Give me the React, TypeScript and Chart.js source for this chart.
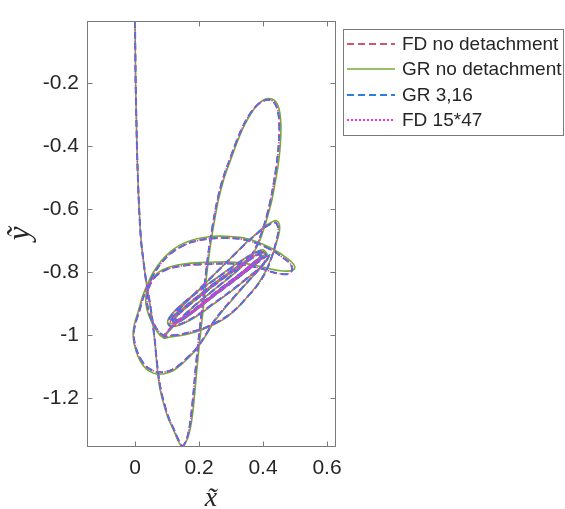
import React, { useEffect, useRef } from 'react';
import { Chart, registerables } from 'chart.js';

Chart.register(...registerables);

// ---------- data ----------
const SERIES_NAMES = ['FD no detachment', 'GR no detachment', 'GR 3,16', 'FD 15*47'];
const X_TICKS = [0, 0.2, 0.4, 0.6];
const Y_TICKS = [-1.2, -1, -0.8, -0.6, -0.4, -0.2];
const X_RANGE = [-0.15, 0.625];
const Y_RANGE = [-1.352, -0.002];

// FD no detachment trajectory (x̃, ỹ)
const fdNoDetachment: number[][] = [
  [0.000, -0.003], [0.001, -0.1], [0.002, -0.2], [0.004, -0.3], [0.006, -0.4], [0.009, -0.5],
  [0.013, -0.6], [0.019, -0.7], [0.027, -0.77], [0.034, -0.823], [0.045, -0.89], [0.054, -0.95],
  [0.062, -1.02], [0.070, -1.10], [0.079, -1.165], [0.091, -1.216], [0.105, -1.262], [0.122, -1.30],
  [0.136, -1.333], [0.148, -1.352],
  [0.160, -1.335], [0.169, -1.30], [0.176, -1.25], [0.183, -1.18], [0.189, -1.113], [0.197, -1.03],
  [0.205, -0.957], [0.213, -0.88], [0.222, -0.80], [0.232, -0.72], [0.244, -0.645], [0.258, -0.57],
  [0.276, -0.50], [0.298, -0.438], [0.318, -0.383], [0.339, -0.334], [0.36, -0.297], [0.381, -0.271],
  [0.40, -0.257], [0.416, -0.253], [0.43, -0.257], [0.441, -0.272], [0.448, -0.297], [0.451, -0.334],
  [0.45, -0.38], [0.447, -0.42], [0.441, -0.47], [0.433, -0.521], [0.423, -0.575], [0.411, -0.625],
  [0.398, -0.668], [0.385, -0.705], [0.372, -0.733], [0.358, -0.757],
  [0.33, -0.785], [0.29, -0.82], [0.24, -0.862], [0.19, -0.903], [0.15, -0.94], [0.12, -0.968],
  [0.10, -0.99], [0.09, -1.005],
  [0.11, -1.002], [0.14, -0.998], [0.175, -0.99], [0.205, -0.982], [0.25, -0.962], [0.288, -0.94],
  [0.32, -0.913], [0.35, -0.88], [0.38, -0.845], [0.405, -0.806], [0.424, -0.762], [0.438, -0.716],
  [0.447, -0.677], [0.446, -0.653], [0.437, -0.643], [0.424, -0.647], [0.40, -0.662], [0.371, -0.687],
  [0.345, -0.71], [0.32, -0.735], [0.29, -0.765], [0.26, -0.795],
  [0.22, -0.835], [0.18, -0.875], [0.145, -0.91], [0.122, -0.938], [0.112, -0.955], [0.118, -0.962],
  [0.14, -0.955], [0.18, -0.925], [0.23, -0.885], [0.28, -0.845], [0.33, -0.805], [0.365, -0.775],
  [0.388, -0.755], [0.392, -0.745], [0.375, -0.748], [0.335, -0.772], [0.285, -0.808], [0.235, -0.846],
  [0.185, -0.886], [0.145, -0.92], [0.122, -0.945], [0.12, -0.958], [0.135, -0.958], [0.17, -0.935],
  [0.215, -0.9], [0.265, -0.86], [0.315, -0.822], [0.36, -0.786], [0.39, -0.76], [0.405, -0.742],
  [0.395, -0.738], [0.36, -0.76], [0.31, -0.795], [0.26, -0.832], [0.21, -0.872], [0.165, -0.908],
  [0.135, -0.935], [0.125, -0.95], [0.132, -0.952], [0.16, -0.94], [0.2, -0.912], [0.25, -0.873],
  [0.3, -0.835], [0.345, -0.8], [0.38, -0.772], [0.40, -0.757], [0.41, -0.748],
  [0.395, -0.733], [0.36, -0.748], [0.31, -0.78], [0.255, -0.82], [0.2, -0.86], [0.15, -0.9],
  [0.118, -0.932], [0.104, -0.955], [0.11, -0.97], [0.14, -0.966], [0.19, -0.94], [0.245, -0.9],
  [0.3, -0.86], [0.35, -0.82], [0.39, -0.787], [0.41, -0.765], [0.418, -0.748],
  [0.405, -0.768], [0.38, -0.80], [0.35, -0.833], [0.30, -0.89], [0.272, -0.923], [0.246, -0.957],
  [0.215, -1.009], [0.19, -1.045], [0.164, -1.071], [0.14, -1.094], [0.112, -1.112], [0.075, -1.118],
  [0.05, -1.11], [0.03, -1.094], [0.012, -1.065], [0.0, -1.03], [-0.004, -0.995], [0.002, -0.96],
  [0.013, -0.926], [0.025, -0.883], [0.039, -0.848], [0.058, -0.808], [0.081, -0.773], [0.11, -0.742],
  [0.143, -0.72], [0.18, -0.704], [0.226, -0.695], [0.262, -0.692], [0.298, -0.692], [0.33, -0.695],
  [0.36, -0.702], [0.39, -0.712], [0.413, -0.723], [0.44, -0.738], [0.463, -0.755], [0.482, -0.77],
  [0.491, -0.787], [0.486, -0.802], [0.47, -0.807], [0.443, -0.804], [0.42, -0.797], [0.40, -0.79],
  [0.35, -0.779], [0.298, -0.773], [0.226, -0.775], [0.164, -0.778], [0.11, -0.788], [0.075, -0.805],
  [0.052, -0.83], [0.04, -0.865], [0.038, -0.9], [0.046, -0.935], [0.062, -0.97], [0.08, -0.995],
  [0.092, -1.0], [0.105, -0.985], [0.13, -0.96], [0.17, -0.93], [0.22, -0.89], [0.27, -0.85],
  [0.32, -0.812], [0.36, -0.78], [0.385, -0.76],
];

// GR no detachment trajectory (slightly offset from the FD run)
const grNoDetachment: number[][] = [
  [0.000, -0.003], [0.001, -0.1], [0.002, -0.2], [0.004, -0.3], [0.006, -0.4], [0.009, -0.5],
  [0.013, -0.6], [0.019, -0.7], [0.027, -0.77], [0.034, -0.823], [0.045, -0.89], [0.054, -0.95],
  [0.062, -1.02], [0.069, -1.10], [0.077, -1.165], [0.089, -1.216], [0.103, -1.262], [0.12, -1.30],
  [0.134, -1.333], [0.146, -1.352],
  [0.162, -1.333], [0.172, -1.30], [0.18, -1.25], [0.187, -1.18], [0.193, -1.113], [0.201, -1.03],
  [0.209, -0.957], [0.217, -0.88], [0.225, -0.80], [0.235, -0.72], [0.247, -0.645], [0.261, -0.57],
  [0.279, -0.50], [0.301, -0.438], [0.321, -0.383], [0.342, -0.334], [0.363, -0.296], [0.384, -0.268],
  [0.403, -0.253], [0.42, -0.249], [0.435, -0.254], [0.446, -0.27], [0.453, -0.297], [0.456, -0.334],
  [0.455, -0.38], [0.452, -0.42], [0.446, -0.47], [0.437, -0.521], [0.427, -0.575], [0.414, -0.625],
  [0.401, -0.668], [0.388, -0.705], [0.374, -0.733], [0.36, -0.757],
  [0.332, -0.785], [0.292, -0.82], [0.242, -0.86], [0.192, -0.902], [0.152, -0.94], [0.12, -0.972],
  [0.098, -0.995], [0.089, -1.01],
  [0.11, -1.006], [0.14, -1.002], [0.175, -0.994], [0.205, -0.985], [0.25, -0.965], [0.288, -0.942],
  [0.32, -0.914], [0.35, -0.88], [0.38, -0.843], [0.405, -0.803], [0.425, -0.758], [0.441, -0.711],
  [0.451, -0.672], [0.451, -0.648], [0.442, -0.637], [0.428, -0.641], [0.403, -0.657], [0.374, -0.683],
  [0.347, -0.707], [0.321, -0.733], [0.291, -0.764], [0.26, -0.795],
  [0.22, -0.836], [0.18, -0.876], [0.145, -0.912], [0.121, -0.94], [0.11, -0.958], [0.117, -0.965],
  [0.14, -0.957], [0.18, -0.927], [0.23, -0.886], [0.28, -0.845], [0.33, -0.804], [0.366, -0.773],
  [0.39, -0.752], [0.395, -0.742], [0.377, -0.746], [0.336, -0.771], [0.286, -0.807], [0.236, -0.845],
  [0.186, -0.885], [0.145, -0.92], [0.121, -0.946], [0.119, -0.96], [0.134, -0.96], [0.17, -0.937],
  [0.215, -0.901], [0.265, -0.861], [0.315, -0.822], [0.361, -0.785], [0.392, -0.758], [0.408, -0.739],
  [0.397, -0.735], [0.361, -0.758], [0.311, -0.794], [0.26, -0.832], [0.21, -0.872], [0.165, -0.909],
  [0.134, -0.937], [0.124, -0.952], [0.131, -0.954], [0.16, -0.941], [0.2, -0.913], [0.25, -0.873],
  [0.3, -0.834], [0.346, -0.798], [0.382, -0.769], [0.403, -0.753], [0.413, -0.744],
  [0.398, -0.729], [0.362, -0.745], [0.312, -0.777], [0.256, -0.818], [0.2, -0.858], [0.15, -0.899],
  [0.117, -0.931], [0.102, -0.956], [0.109, -0.972], [0.14, -0.968], [0.19, -0.942], [0.245, -0.902],
  [0.3, -0.861], [0.351, -0.82], [0.392, -0.785], [0.413, -0.762], [0.421, -0.745],
  [0.408, -0.765], [0.382, -0.798], [0.352, -0.832], [0.302, -0.89], [0.273, -0.924], [0.246, -0.96],
  [0.214, -1.013], [0.188, -1.05], [0.162, -1.077], [0.137, -1.1], [0.108, -1.118], [0.071, -1.124],
  [0.046, -1.115], [0.026, -1.097], [0.009, -1.067], [-0.002, -1.03], [-0.006, -0.995], [0.0, -0.958],
  [0.011, -0.922], [0.023, -0.879], [0.037, -0.843], [0.056, -0.803], [0.08, -0.767], [0.11, -0.736],
  [0.143, -0.713], [0.18, -0.698], [0.226, -0.689], [0.262, -0.686], [0.298, -0.687], [0.33, -0.69],
  [0.36, -0.697], [0.39, -0.708], [0.415, -0.719], [0.443, -0.734], [0.467, -0.75], [0.487, -0.766],
  [0.499, -0.782], [0.494, -0.794], [0.476, -0.797], [0.448, -0.795], [0.424, -0.79], [0.403, -0.785],
  [0.352, -0.774], [0.299, -0.768], [0.227, -0.769], [0.164, -0.773], [0.108, -0.784], [0.072, -0.802],
  [0.049, -0.828], [0.036, -0.864], [0.034, -0.9], [0.043, -0.937], [0.06, -0.974], [0.078, -1.0],
  [0.09, -1.006], [0.104, -0.99], [0.13, -0.963], [0.17, -0.932], [0.22, -0.891], [0.27, -0.851],
  [0.32, -0.813], [0.36, -0.781], [0.385, -0.761],
];

// GR 3,16 and FD 15*47 follow the FD no detachment run within reading precision
const gr316: number[][] = fdNoDetachment;
const fd1547: number[][] = fdNoDetachment;

// ---------- styles ----------
const COLORS = ['#C2203E', '#77AC30', '#2B7FDA', '#FF2FD2'];
const DASHES = [[7, 4], [], [7, 4], [1.5, 2.5]];
const WIDTHS = [1.6, 1.6, 2, 1.5];
const AXIS_COLOR = '#7a7a7a';
const TEXT_COLOR = '#262626';
const SANS = "'Liberation Sans', Arial, sans-serif";
const SERIF = "'Liberation Serif', 'DejaVu Serif', serif";

const fmt = (v: number) => String(Number(v.toFixed(2)));

const overlayPlugin = {
  id: 'matlabOverlay',
  afterDraw(chart: any) {
    const { ctx, chartArea: a, scales } = chart;
    const xs = scales.x;
    const ys = scales.y;
    ctx.save();
    // axes box
    ctx.setLineDash([]);
    ctx.strokeStyle = AXIS_COLOR;
    ctx.lineWidth = 1;
    const L = Math.round(a.left) + 0.5;
    const R = Math.round(a.right) + 0.5;
    const T = Math.round(a.top) + 0.5;
    const B = Math.round(a.bottom) + 0.5;
    ctx.strokeRect(L, T, R - L, B - T);
    // inward ticks on all four sides
    const tl = 5;
    ctx.beginPath();
    X_TICKS.forEach((v) => {
      const px = Math.round(xs.getPixelForValue(v)) + 0.5;
      ctx.moveTo(px, B); ctx.lineTo(px, B - tl);
      ctx.moveTo(px, T); ctx.lineTo(px, T + tl);
    });
    Y_TICKS.forEach((v) => {
      const py = Math.round(ys.getPixelForValue(v)) + 0.5;
      ctx.moveTo(L, py); ctx.lineTo(L + tl, py);
      ctx.moveTo(R, py); ctx.lineTo(R - tl, py);
    });
    ctx.stroke();

    // axis titles
    ctx.fillStyle = TEXT_COLOR;
    ctx.font = `italic 28px ${SERIF}`;
    ctx.textAlign = 'center';
    ctx.textBaseline = 'alphabetic';
    ctx.fillText('x\u0303', (a.left + a.right) / 2, 506);
    ctx.save();
    ctx.font = `italic 31px ${SERIF}`;
    ctx.translate(29, (a.top + a.bottom) / 2);
    ctx.rotate(-Math.PI / 2);
    ctx.fillText('\u1EF9', 0, 0);
    ctx.restore();

    // legend
    const lx = 343.5, ly = 29.5, lw = 220, lh = 106;
    ctx.fillStyle = '#ffffff';
    ctx.fillRect(lx, ly, lw, lh);
    ctx.strokeStyle = AXIS_COLOR;
    ctx.lineWidth = 1;
    ctx.setLineDash([]);
    ctx.strokeRect(lx, ly, lw, lh);
    ctx.font = `19px ${SANS}`;
    ctx.textAlign = 'left';
    ctx.textBaseline = 'middle';
    SERIES_NAMES.forEach((name, i) => {
      const y = Math.round(44 + i * 25.3);
      ctx.strokeStyle = COLORS[i];
      ctx.lineWidth = i === 3 ? 2 : WIDTHS[i];
      ctx.setLineDash(i === 3 ? [2, 2] : DASHES[i]);
      ctx.beginPath();
      ctx.moveTo(347, y);
      ctx.lineTo(395, y);
      ctx.stroke();
      ctx.setLineDash([]);
      ctx.fillStyle = TEXT_COLOR;
      ctx.fillText(name, 402, y + 1);
    });
    ctx.restore();
  },
};

export default function App() {
  const ref = useRef<HTMLCanvasElement | null>(null);

  useEffect(() => {
    if (!ref.current) return;
    const paths = [fdNoDetachment, grNoDetachment, gr316, fd1547];
    const chart = new Chart(ref.current, {
      type: 'scatter',
      data: {
        datasets: paths.map((p, i) => ({
          label: SERIES_NAMES[i],
          data: p.map(([x, y]) => ({ x, y })),
          showLine: true,
          borderColor: COLORS[i],
          backgroundColor: COLORS[i],
          borderWidth: WIDTHS[i],
          borderDash: DASHES[i],
          pointRadius: 0,
          pointHoverRadius: 0,
          tension: 0.35,
          fill: false,
          order: 4 - i,
        })),
      },
      options: {
        animation: false,
        responsive: false,
        devicePixelRatio: 1,
        layout: { padding: { left: 0, right: 230, top: 13, bottom: 0 } },
        plugins: {
          legend: { display: false },
          tooltip: { enabled: false },
        },
        scales: {
          x: {
            type: 'linear',
            min: X_RANGE[0],
            max: X_RANGE[1],
            afterBuildTicks: (s: any) => { s.ticks = X_TICKS.map((v) => ({ value: v })); },
            afterFit: (s: any) => { s.height = 63; },
            grid: { display: false, drawTicks: false },
            border: { display: false },
            ticks: {
              callback: (v: any) => fmt(Number(v)),
              color: TEXT_COLOR,
              font: { family: SANS, size: 21 },
              padding: 10,
              maxRotation: 0,
              autoSkip: false,
            },
          },
          y: {
            type: 'linear',
            min: Y_RANGE[0],
            max: Y_RANGE[1],
            afterBuildTicks: (s: any) => { s.ticks = Y_TICKS.map((v) => ({ value: v })); },
            afterFit: (s: any) => { s.width = 87; },
            grid: { display: false, drawTicks: false },
            border: { display: false },
            ticks: {
              callback: (v: any) => fmt(Number(v)),
              color: TEXT_COLOR,
              font: { family: SANS, size: 21 },
              padding: 8,
              autoSkip: false,
            },
          },
        },
      },
      plugins: [overlayPlugin],
    } as any);
    return () => chart.destroy();
  }, []);

  return (
    <div style={{ position: 'fixed', left: 0, top: 0, width: 565, height: 509, background: '#ffffff' }}>
      <canvas ref={ref} width={565} height={509} style={{ display: 'block', width: 565, height: 509 }} />
    </div>
  );
}
